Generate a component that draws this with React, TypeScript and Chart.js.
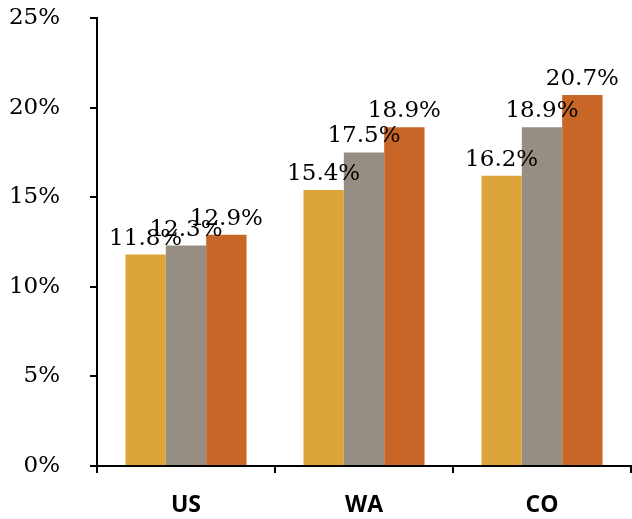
import React, { useEffect, useRef } from "react";
import { Chart, registerables } from "chart.js";

Chart.register(...registerables);

const categories = ["US", "WA", "CO"];
const series1 = [11.8, 15.4, 16.2];
const series2 = [12.3, 17.5, 18.9];
const series3 = [12.9, 18.9, 20.7];
const yTicks = [0, 5, 10, 15, 20, 25];

const labelPlugin = {
  id: "barLabels",
  afterDatasetsDraw(chart: any) {
    const ctx = chart.ctx;
    ctx.save();
    ctx.font = "23px 'DejaVu Serif'";
    ctx.fillStyle = "#000";
    ctx.textAlign = "center";
    ctx.textBaseline = "alphabetic";
    chart.data.datasets.forEach((ds: any, i: number) => {
      const meta = chart.getDatasetMeta(i);
      meta.data.forEach((bar: any, j: number) => {
        ctx.fillText(ds.data[j].toFixed(1) + "%", bar.x, bar.y - 10);
      });
    });
    ctx.restore();
  },
};

export default function App() {
  const ref = useRef<HTMLCanvasElement>(null);
  useEffect(() => {
    const chart = new Chart(ref.current!, {
      type: "bar",
      data: {
        labels: categories,
        datasets: [
          { data: series1, backgroundColor: "#DDA43A" },
          { data: series2, backgroundColor: "#968D83" },
          { data: series3, backgroundColor: "#C86628" },
        ],
      },
      options: {
        animation: false,
        responsive: true,
        maintainAspectRatio: false,
        layout: { padding: { top: 18, right: 1, left: 0, bottom: 0 } },
        plugins: { legend: { display: false }, tooltip: { enabled: false } },
        datasets: { bar: { categoryPercentage: 0.68, barPercentage: 1.0 } },
        scales: {
          x: {
            offset: true,
            grid: {
              offset: true,
              drawOnChartArea: false,
              drawTicks: true,
              tickLength: 7,
              color: "#000",
              lineWidth: 2,
            },
            border: { display: true, color: "#000", width: 2 },
            ticks: {
              color: "#000",
              padding: 19,
              font: { family: "'Open Sans'", size: 23, weight: "bold" },
            },
            afterFit: (s: any) => {
              s.height = 53;
              s.paddingLeft = 0;
              s.paddingRight = 0;
            },
          },
          y: {
            min: 0,
            max: 25,
            afterBuildTicks: (s: any) => {
              s.ticks = yTicks.map((v) => ({ value: v }));
            },
            grid: {
              drawOnChartArea: false,
              drawTicks: true,
              tickLength: 7,
              color: "#000",
              lineWidth: 2,
            },
            border: { display: true, color: "#000", width: 2 },
            ticks: {
              color: "#000",
              padding: 30,
              font: { family: "'DejaVu Serif'", size: 23 },
              callback: (v: any) => v + "%",
            },
            afterFit: (s: any) => {
              s.width = 97;
              s.paddingTop = 0;
              s.paddingBottom = 0;
            },
          },
        },
      },
      plugins: [labelPlugin],
    });
    return () => chart.destroy();
  }, []);
  return (
    <div style={{ position: "fixed", left: 0, top: 0, width: 632, height: 519 }}>
      <canvas ref={ref} />
    </div>
  );
}
